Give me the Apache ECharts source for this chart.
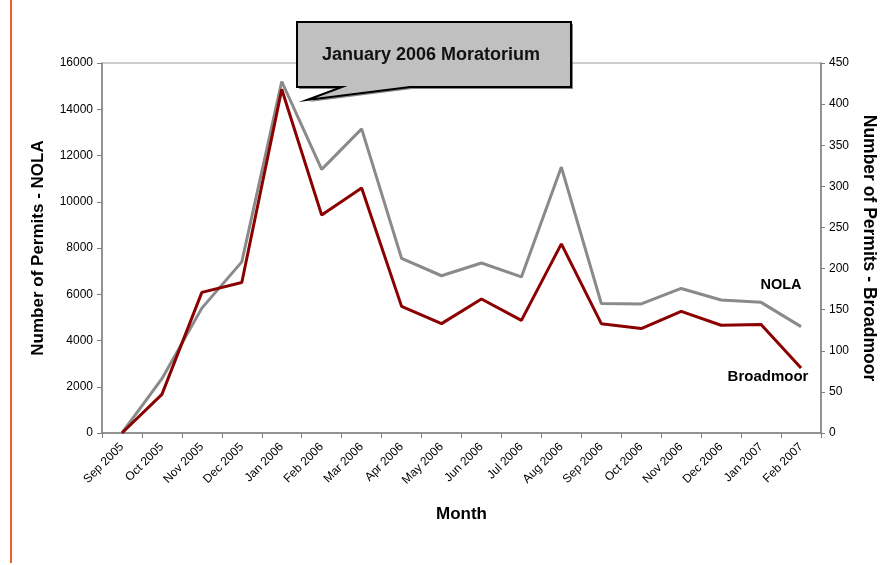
<!DOCTYPE html>
<html>
<head>
<meta charset="utf-8">
<script src="https://cdn.jsdelivr.net/npm/echarts@6/dist/echarts.min.js"></script>
<style>
  html, body { margin: 0; padding: 0; background: #fff; }
  #chart { width: 892px; height: 565px; }
</style>
</head>
<body>
<div id="chart"></div>
<script>
// months on the x axis
var months = ['Sep 2005', 'Oct 2005', 'Nov 2005', 'Dec 2005', 'Jan 2006', 'Feb 2006',
  'Mar 2006', 'Apr 2006', 'May 2006', 'Jun 2006', 'Jul 2006', 'Aug 2006',
  'Sep 2006', 'Oct 2006', 'Nov 2006', 'Dec 2006', 'Jan 2007', 'Feb 2007']

// permits
var nola = [0, 2350, 5400, 7400, 15200, 11400, 13150, 7550, 6800, 7350, 6750, 11500,
  5600, 5580, 6250, 5750, 5650, 4600]
var broadmoor = [0, 47, 171, 183, 418, 265, 298, 154, 133, 163, 137, 230,
  133, 127, 148, 131, 132, 79]

var font = 'Liberation Sans, Arial, sans-serif'
var axisGray = '#808080'

var chart = echarts.init(document.getElementById('chart'))

var option = {
  animation: false,
  textStyle: { fontFamily: font },
  grid: {
    left: 102,
    right: 71,
    top: 63,
    bottom: 132,
    show: true,
    borderColor: '#9a9a9a',
    borderWidth: 1
  },
  xAxis: {
    type: 'category',
    data: months,
    boundaryGap: true,
    name: 'Month',
    nameLocation: 'middle',
    nameGap: 73,
    nameTextStyle: { fontSize: 17, fontWeight: 'bold', color: '#000' },
    axisLine: { lineStyle: { color: axisGray, width: 1.5 } },
    axisTick: { show: true, length: 5, lineStyle: { color: axisGray } },
    axisLabel: { rotate: 45, fontSize: 12, color: '#000', margin: 12, interval: 0 },
    splitLine: { show: false }
  },
  yAxis: [
    {
      type: 'value',
      min: 0,
      max: 16000,
      interval: 2000,
      name: 'Number of Permits - NOLA',
      nameLocation: 'middle',
      nameGap: 55,
      nameTextStyle: { fontSize: 17, fontWeight: 'bold', color: '#000' },
      axisLine: { show: true, lineStyle: { color: axisGray, width: 1.5 } },
      axisTick: { show: true, length: 5, lineStyle: { color: axisGray } },
      axisLabel: {
        fontSize: 12,
        color: '#000',
        margin: 9,
        formatter: function (v) { return String(v) }
      },
      splitLine: { show: false }
    },
    {
      type: 'value',
      position: 'right',
      min: 0,
      max: 450,
      interval: 50,
      name: 'Number of Permits - Broadmoor',
      nameLocation: 'middle',
      nameGap: 35,
      nameRotate: -90,
      nameTextStyle: { fontSize: 17.5, fontWeight: 'bold', color: '#000' },
      axisLine: { show: true, lineStyle: { color: axisGray, width: 1.5 } },
      axisTick: { show: true, length: 4, lineStyle: { color: axisGray } },
      axisLabel: { fontSize: 12, color: '#000', margin: 8 },
      splitLine: { show: false }
    }
  ],
  series: [
    {
      name: 'NOLA',
      type: 'line',
      yAxisIndex: 0,
      data: nola,
      symbol: 'none',
      lineStyle: { color: '#8a8a8a', width: 3 },
      itemStyle: { color: '#8a8a8a' },
      z: 2
    },
    {
      name: 'Broadmoor',
      type: 'line',
      yAxisIndex: 1,
      data: broadmoor,
      symbol: 'none',
      lineStyle: { color: '#8b0000', width: 3 },
      itemStyle: { color: '#8b0000' },
      z: 3
    }
  ],
  graphic: [
    // orange rule down the left edge of the slide
    {
      type: 'line',
      shape: { x1: 11, y1: 0, x2: 11, y2: 563 },
      style: { stroke: '#e8602c', lineWidth: 2 }
    },
    // callout
    {
      type: 'polygon',
      shape: {
        points: [[299, 24], [573, 24], [573, 89], [412, 89], [309, 102], [344, 89], [299, 89]]
      },
      style: { fill: '#333', opacity: 0.6 },
      z: 10
    },
    {
      type: 'polygon',
      shape: {
        points: [[297, 22], [571, 22], [571, 87], [410, 87], [307, 100], [342, 87], [297, 87]]
      },
      style: { fill: '#c0c0c0', stroke: '#000', lineWidth: 2 },
      z: 11
    },
    {
      type: 'text',
      x: 431,
      y: 55,
      style: {
        text: 'January 2006 Moratorium',
        font: 'bold 18px Liberation Sans, Arial, sans-serif',
        fill: '#111',
        align: 'center',
        verticalAlign: 'middle'
      },
      z: 12
    },
    // line labels
    {
      type: 'text',
      x: 781,
      y: 285,
      style: {
        text: 'NOLA',
        font: 'bold 14.5px Liberation Sans, Arial, sans-serif',
        fill: '#000',
        align: 'center',
        verticalAlign: 'middle'
      }
    },
    {
      type: 'text',
      x: 768,
      y: 377,
      style: {
        text: 'Broadmoor',
        font: 'bold 15px Liberation Sans, Arial, sans-serif',
        fill: '#000',
        align: 'center',
        verticalAlign: 'middle'
      }
    }
  ]
}

chart.setOption(option)
</script>
</body>
</html>
